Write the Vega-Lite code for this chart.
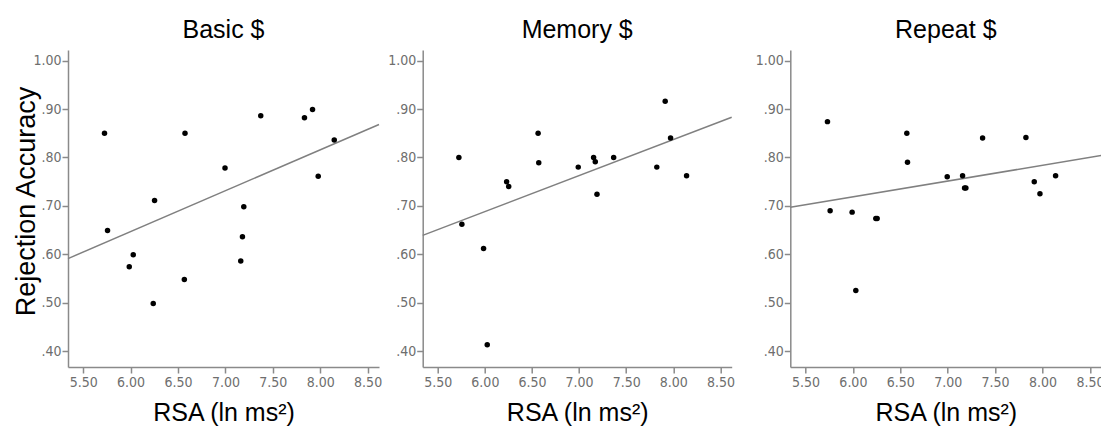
{
  "$schema": "https://vega.github.io/schema/vega-lite/v6.json",
  "padding": {"left": 12, "top": 17, "right": 0, "bottom": 0},
  "background": "white",
  "bounds": "flush",
  "spacing": 43.7,
  "config": {
    "view": {"stroke": null},
    "axis": {
      "grid": false,
      "domainColor": "#8a8a8a",
      "domainWidth": 1.5,
      "tickColor": "#8a8a8a",
      "tickWidth": 1.5,
      "tickSize": 6,
      "labelColor": "#6e6e6e",
      "labelFont": "DejaVu Sans Condensed, Liberation Sans",
      "labelFontSize": 14,
      "titleFont": "Liberation Sans",
      "titleFontWeight": "normal",
      "titleColor": "#000000",
      "titleFontSize": 25
    },
    "title": {"font": "Liberation Sans", "fontSize": 25, "fontWeight": "normal", "color": "#000000", "anchor": "middle", "baseline": "alphabetic", "offset": 7.5}
  },
  "datasets": {
    "points": [
      {"panel": "Basic", "rsa": 5.725, "acc": 0.850},
      {"panel": "Basic", "rsa": 5.757, "acc": 0.649},
      {"panel": "Basic", "rsa": 5.986, "acc": 0.574},
      {"panel": "Basic", "rsa": 6.028, "acc": 0.599},
      {"panel": "Basic", "rsa": 6.239, "acc": 0.498},
      {"panel": "Basic", "rsa": 6.253, "acc": 0.711},
      {"panel": "Basic", "rsa": 6.567, "acc": 0.548},
      {"panel": "Basic", "rsa": 6.574, "acc": 0.850},
      {"panel": "Basic", "rsa": 6.996, "acc": 0.778},
      {"panel": "Basic", "rsa": 7.162, "acc": 0.586},
      {"panel": "Basic", "rsa": 7.180, "acc": 0.636},
      {"panel": "Basic", "rsa": 7.194, "acc": 0.698},
      {"panel": "Basic", "rsa": 7.373, "acc": 0.886},
      {"panel": "Basic", "rsa": 7.834, "acc": 0.882},
      {"panel": "Basic", "rsa": 7.919, "acc": 0.899},
      {"panel": "Basic", "rsa": 7.979, "acc": 0.761},
      {"panel": "Basic", "rsa": 8.148, "acc": 0.836},
      {"panel": "Memory", "rsa": 5.724, "acc": 0.800},
      {"panel": "Memory", "rsa": 5.756, "acc": 0.662},
      {"panel": "Memory", "rsa": 5.986, "acc": 0.612},
      {"panel": "Memory", "rsa": 6.025, "acc": 0.413},
      {"panel": "Memory", "rsa": 6.231, "acc": 0.750},
      {"panel": "Memory", "rsa": 6.253, "acc": 0.740},
      {"panel": "Memory", "rsa": 6.565, "acc": 0.850},
      {"panel": "Memory", "rsa": 6.572, "acc": 0.789},
      {"panel": "Memory", "rsa": 6.991, "acc": 0.780},
      {"panel": "Memory", "rsa": 7.154, "acc": 0.800},
      {"panel": "Memory", "rsa": 7.172, "acc": 0.791},
      {"panel": "Memory", "rsa": 7.190, "acc": 0.724},
      {"panel": "Memory", "rsa": 7.367, "acc": 0.800},
      {"panel": "Memory", "rsa": 7.825, "acc": 0.780},
      {"panel": "Memory", "rsa": 7.914, "acc": 0.916},
      {"panel": "Memory", "rsa": 7.971, "acc": 0.840},
      {"panel": "Memory", "rsa": 8.141, "acc": 0.762},
      {"panel": "Repeat", "rsa": 5.732, "acc": 0.874},
      {"panel": "Repeat", "rsa": 5.760, "acc": 0.690},
      {"panel": "Repeat", "rsa": 5.992, "acc": 0.687},
      {"panel": "Repeat", "rsa": 6.031, "acc": 0.525},
      {"panel": "Repeat", "rsa": 6.242, "acc": 0.674},
      {"panel": "Repeat", "rsa": 6.256, "acc": 0.674},
      {"panel": "Repeat", "rsa": 6.569, "acc": 0.850},
      {"panel": "Repeat", "rsa": 6.576, "acc": 0.790},
      {"panel": "Repeat", "rsa": 6.995, "acc": 0.760},
      {"panel": "Repeat", "rsa": 7.157, "acc": 0.762},
      {"panel": "Repeat", "rsa": 7.178, "acc": 0.737},
      {"panel": "Repeat", "rsa": 7.192, "acc": 0.737},
      {"panel": "Repeat", "rsa": 7.368, "acc": 0.840},
      {"panel": "Repeat", "rsa": 7.825, "acc": 0.841},
      {"panel": "Repeat", "rsa": 7.913, "acc": 0.750},
      {"panel": "Repeat", "rsa": 7.973, "acc": 0.725},
      {"panel": "Repeat", "rsa": 8.138, "acc": 0.762}
    ],
    "fits": [
      {"panel": "Basic", "rsa": 5.34, "acc": 0.591},
      {"panel": "Basic", "rsa": 8.62, "acc": 0.868},
      {"panel": "Memory", "rsa": 5.34, "acc": 0.639},
      {"panel": "Memory", "rsa": 8.62, "acc": 0.883},
      {"panel": "Repeat", "rsa": 5.34, "acc": 0.697},
      {"panel": "Repeat", "rsa": 8.62, "acc": 0.804}
    ]
  },
  "hconcat": [
    {
      "width": 311,
      "height": 317,
      "title": {"text": "Basic $"},
      "encoding": {
        "x": {"field": "rsa", "type": "quantitative", "scale": {"domain": [5.34, 8.62], "nice": false, "zero": false}, "axis": {"values": [5.5, 6, 6.5, 7, 7.5, 8, 8.5], "format": ".2f", "title": "RSA (ln ms²)", "titleBaseline": "alphabetic", "titleY": 53.3, "labelPadding": 2}},
        "y": {"field": "acc", "type": "quantitative", "scale": {"domain": [0.367, 1.022], "nice": false, "zero": false}, "axis": {"values": [0.4, 0.5, 0.6, 0.7, 0.8, 0.9, 1.0], "labelExpr": "datum.value >= 1 ? '1.00' : replace(format(datum.value, '.2f'), '0.', '.')", "title": "Rejection Accuracy", "titleFontSize": 27, "titleBaseline": "alphabetic", "titleX": -33.7, "titleY": 151, "titleAlign": "center", "titleAngle": -90, "labelPadding": 1}}
      },
      "layer": [
        {"data": {"name": "fits"}, "transform": [{"filter": "datum.panel === 'Basic'"}], "mark": {"type": "line", "color": "#808080", "strokeWidth": 1.5}},
        {"data": {"name": "points"}, "transform": [{"filter": "datum.panel === 'Basic'"}], "mark": {"type": "circle", "color": "#000000", "opacity": 1, "size": 30}}
      ]
    },
    {
      "bounds": "flush",
      "spacing": 58.6,
      "hconcat": [
        {
          "width": 309,
          "height": 317,
          "title": {"text": "Memory $"},
          "encoding": {
            "x": {"field": "rsa", "type": "quantitative", "scale": {"domain": [5.34, 8.62], "nice": false, "zero": false}, "axis": {"values": [5.5, 6, 6.5, 7, 7.5, 8, 8.5], "format": ".2f", "title": "RSA (ln ms²)", "titleBaseline": "alphabetic", "titleY": 53.3, "labelPadding": 2}},
            "y": {"field": "acc", "type": "quantitative", "scale": {"domain": [0.367, 1.022], "nice": false, "zero": false}, "axis": {"values": [0.4, 0.5, 0.6, 0.7, 0.8, 0.9, 1.0], "labelExpr": "datum.value >= 1 ? '1.00' : replace(format(datum.value, '.2f'), '0.', '.')", "title": null, "labelPadding": 1}}
          },
          "layer": [
            {"data": {"name": "fits"}, "transform": [{"filter": "datum.panel === 'Memory'"}], "mark": {"type": "line", "color": "#808080", "strokeWidth": 1.5}},
            {"data": {"name": "points"}, "transform": [{"filter": "datum.panel === 'Memory'"}], "mark": {"type": "circle", "color": "#000000", "opacity": 1, "size": 30}}
          ]
        },
        {
          "width": 311,
          "height": 317,
          "title": {"text": "Repeat $"},
          "encoding": {
            "x": {"field": "rsa", "type": "quantitative", "scale": {"domain": [5.34, 8.62], "nice": false, "zero": false}, "axis": {"values": [5.5, 6, 6.5, 7, 7.5, 8, 8.5], "format": ".2f", "title": "RSA (ln ms²)", "titleBaseline": "alphabetic", "titleY": 53.3, "labelPadding": 2}},
            "y": {"field": "acc", "type": "quantitative", "scale": {"domain": [0.367, 1.022], "nice": false, "zero": false}, "axis": {"values": [0.4, 0.5, 0.6, 0.7, 0.8, 0.9, 1.0], "labelExpr": "datum.value >= 1 ? '1.00' : replace(format(datum.value, '.2f'), '0.', '.')", "title": null, "labelPadding": 1}}
          },
          "layer": [
            {"data": {"name": "fits"}, "transform": [{"filter": "datum.panel === 'Repeat'"}], "mark": {"type": "line", "color": "#808080", "strokeWidth": 1.5}},
            {"data": {"name": "points"}, "transform": [{"filter": "datum.panel === 'Repeat'"}], "mark": {"type": "circle", "color": "#000000", "opacity": 1, "size": 30}}
          ]
        }
      ]
    }
  ]
}
